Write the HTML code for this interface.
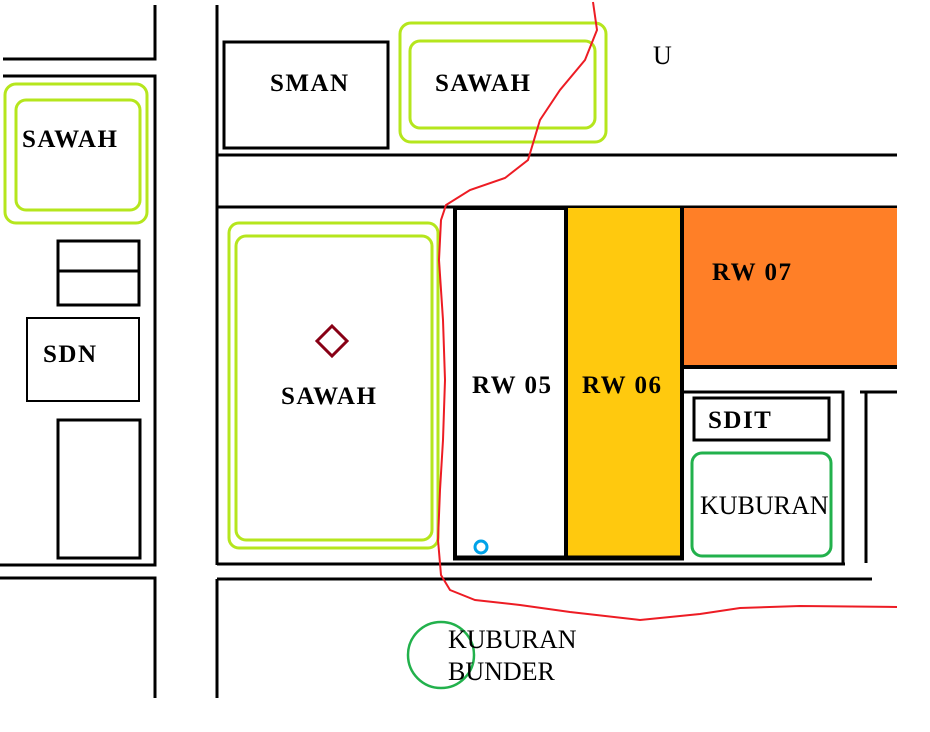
<!DOCTYPE html>
<html><head><style>body{margin:0;background:#fff}svg{display:block}
text{font-family:"Liberation Serif",serif}</style></head><body>
<svg width="930" height="732" viewBox="0 0 930 732">
<g stroke="#000" fill="none" stroke-width="3">
<path d="M155 5V59H3"/>
<path d="M3 76H155V565H0"/>
<path d="M0 578H155V698"/>
<path d="M217 5V565"/>
<path d="M217 155H897"/>
<path d="M217 207H897"/>
<path d="M217 564H845"/>
<path d="M217 579H872"/>
<path d="M217 579V698"/>
<rect x="224" y="42" width="164" height="106"/>
<rect x="58" y="241" width="81" height="64"/>
<path d="M58 271H139"/>
<rect x="27" y="318" width="112" height="83" stroke-width="2"/>
<rect x="58" y="420" width="82" height="138"/>
</g>
<g stroke="#b5e61d" fill="none" stroke-width="3">
<rect x="400" y="23" width="206" height="119" rx="11"/>
<rect x="410" y="41" width="185" height="87" rx="10"/>
<rect x="5" y="84" width="142" height="139" rx="11"/>
<rect x="16" y="100" width="124" height="110" rx="10"/>
<rect x="229" y="223" width="209" height="325" rx="10"/>
<rect x="236" y="236" width="196" height="304" rx="10"/>
</g>
<rect x="455" y="208" width="111" height="350" fill="#fff" stroke="#000" stroke-width="4"/>
<rect x="566" y="208" width="116" height="350" fill="#ffc90e"/>
<path d="M566 208V558" stroke="#000" stroke-width="4"/>
<path d="M453 558H684" stroke="#000" stroke-width="5"/>
<rect x="683" y="208" width="214" height="158" fill="#ff7f27"/>
<g stroke="#000" fill="none" stroke-width="4">
<path d="M682 207V560"/>
<path d="M682 367H897"/>
</g>
<g stroke="#000" fill="none" stroke-width="3">
<path d="M682 392H843V563"/>
<path d="M860 392H897M866 392V563"/>
<rect x="694" y="398" width="135" height="42"/>
</g>
<rect x="692" y="453" width="139" height="103" rx="10" fill="none" stroke="#22b14c" stroke-width="3"/>
<circle cx="481" cy="547" r="6" fill="none" stroke="#00a2e8" stroke-width="3"/>
<circle cx="441" cy="655" r="33" fill="none" stroke="#22b14c" stroke-width="2.5"/>
<path d="M332 326L347 341L332 356L317 341Z" fill="none" stroke="#880015" stroke-width="3"/>
<path d="M593 2L597 30L585 60L560 90L540 120L528 160L505 178L470 190L446 205L441 220L439 260L443 320L445 380L443 440L440 490L438 540L441 575L450 590L475 600L520 605L570 612L640 620L700 614L740 608L800 606L897 607" fill="none" stroke="#ed1c24" stroke-width="2"/>
<g font-weight="bold" font-size="25" fill="#000" letter-spacing="1.5">
<text x="270" y="91">SMAN</text>
<text x="435" y="91">SAWAH</text>
<text x="22" y="147">SAWAH</text>
<text x="43" y="362">SDN</text>
<text x="281" y="404">SAWAH</text>
<text x="472" y="393">RW 05</text>
<text x="582" y="393">RW 06</text>
<text x="712" y="280">RW 07</text>
<text x="708" y="428">SDIT</text>
</g>
<g font-size="26" fill="#000">
<text x="700" y="514">KUBURAN</text>
<text x="448" y="648">KUBURAN</text>
<text x="448" y="680">BUNDER</text>
<text x="653" y="64">U</text>
</g>
</svg>
</body></html>
